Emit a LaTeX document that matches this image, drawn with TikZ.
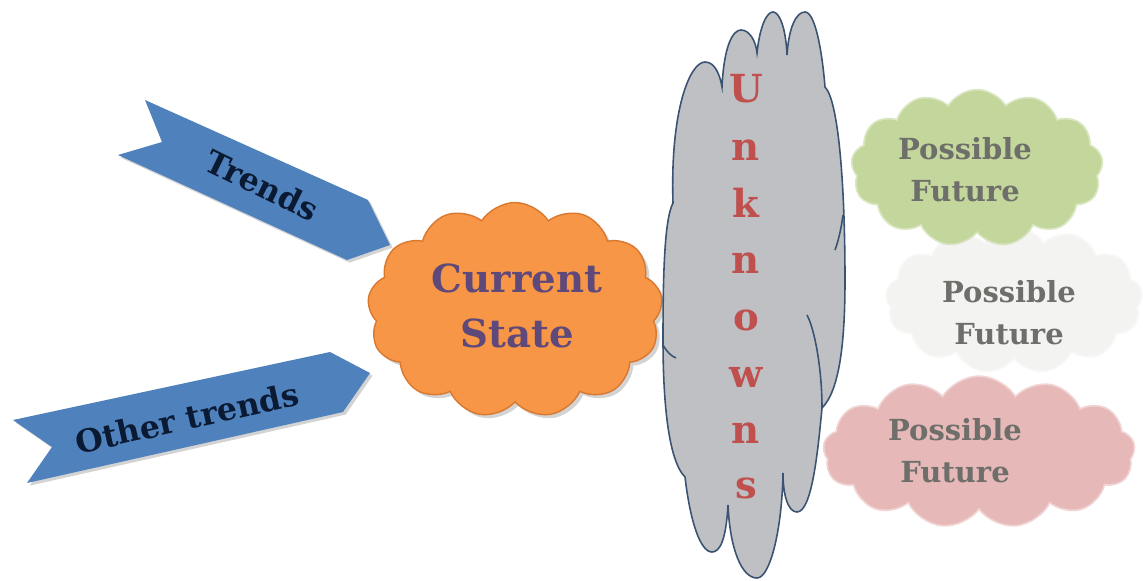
\documentclass[tikz,border=0pt]{standalone}
\usepackage{fontspec}
\setmainfont{DejaVu Serif}
\usetikzlibrary{shapes.symbols,shadows}
\definecolor{arrowblue}{HTML}{4F81BD}
\definecolor{arrowtext}{HTML}{0B1A33}
\definecolor{curorange}{HTML}{F79646}
\definecolor{curedge}{HTML}{D9782F}
\definecolor{curtext}{HTML}{5F497A}
\definecolor{unkgray}{HTML}{BFC0C4}
\definecolor{unkedge}{HTML}{3B5372}
\definecolor{unktext}{HTML}{C0504D}
\definecolor{futgreen}{HTML}{C3D69B}
\definecolor{futwhite}{HTML}{F3F3F1}
\definecolor{futpink}{HTML}{E6B9B8}
\definecolor{futtext}{HTML}{6E6E6A}
\tikzset{
  banner/.style={fill=arrowblue, drop shadow={shadow xshift=1.5pt, shadow yshift=-1.5pt, opacity=0.35}},
  bannertext/.style={font=\bfseries\fontsize{18}{22}\selectfont, text=arrowtext, inner sep=0pt},
  future/.style={cloud, cloud puffs=13, cloud puff arc=120, draw=#1, fill=#1, line width=2pt, draw opacity=0.6, inner sep=0pt},
  futtxt/.style={font=\bfseries\fontsize{16.5}{24}\selectfont, text=futtext, align=center, inner sep=0pt},
  unk/.style={font=\bfseries\fontsize{22}{26}\selectfont, text=unktext, inner sep=0pt},
}
\begin{document}
\begin{tikzpicture}[x=0.02cm,y=-0.02cm]
\useasboundingbox (0,0) rectangle (1143,581);
% possible futures (behind)
\node[future=futwhite, minimum width=5.1cm, minimum height=2.9cm] (f2) at (1014,300) {};
\node[future=futgreen, minimum width=5.0cm, minimum height=3.1cm] (f1) at (977,168) {};
\node[future=futpink, minimum width=6.2cm, minimum height=3.0cm] (f3) at (979,452) {};
\node[futtxt] (t1) at (965,170) {Possible\\Future};
\node[futtxt] (t2) at (1009,313) {Possible\\Future};
\node[futtxt] (t3) at (955,451) {Possible\\Future};
% banners
\path[banner] (145,100) -- (368,200) -- (390,245) -- (347,260) -- (118,155) -- (162,142) -- cycle;
\path[banner] (13,420) -- (330,352) -- (370,373) -- (343,412) -- (27,483) -- (52,447) -- cycle;
\node[bannertext, rotate=-26] (tr) at (262,185) {Trends};
\node[bannertext, rotate=12.5] (ot) at (187,418) {Other trends};
% current state
\node[cloud, cloud puffs=13, cloud puff arc=115, minimum width=5.9cm, minimum height=4.3cm,
      fill=curorange, draw=curedge, line width=0.8pt,
      drop shadow={shadow xshift=2pt, shadow yshift=-2pt, opacity=0.35}] (cur) at (515,310) {};
\node[font=\bfseries\fontsize{22}{31}\selectfont, text=curtext, align=center, inner sep=0pt] (curtxt) at (517,306) {Current\\State};
% unknowns cloud
\path[fill=unkgray, draw=unkedge, line width=0.9pt]
  (673,203) .. controls (670,110) and (690,62) .. (705,62)
  .. controls (715,62) and (720,75) .. (722,87)
  .. controls (724,45) and (733,30) .. (741,30)
  .. controls (750,30) and (756,42) .. (757,53)
  .. controls (760,25) and (767,12) .. (773,12)
  .. controls (780,12) and (786,30) .. (787,55)
  .. controls (789,25) and (797,12) .. (805,12)
  .. controls (815,12) and (822,50) .. (825,87)
  .. controls (838,100) and (845,180) .. (845,280)
  .. controls (845,340) and (840,390) .. (822,408)
  .. controls (818,450) and (812,512) .. (797,512)
  .. controls (788,512) and (783,495) .. (783,473)
  .. controls (782,530) and (770,578) .. (757,578)
  .. controls (742,578) and (730,550) .. (728,505)
  .. controls (726,540) and (720,552) .. (712,552)
  .. controls (700,552) and (690,520) .. (685,477)
  .. controls (668,460) and (663,400) .. (663,340)
  .. controls (663,280) and (664,220) .. (673,203) -- cycle;
\draw[unkedge, line width=0.9pt] (807,315) .. controls (815,330) and (822,370) .. (822,408);
\draw[unkedge, line width=0.9pt] (663,345) .. controls (667,352) and (671,356) .. (676,358);
\draw[unkedge, line width=0.9pt] (843,215) .. controls (841,230) and (838,242) .. (835,250);
\foreach \l/\yy [count=\i] in {U/103,n/160,k/217,n/273,o/330,w/387,n/443,s/498}
  \node[unk, anchor=base] (u\i) at (746,\yy) {\l};
\end{tikzpicture}
\end{document}
